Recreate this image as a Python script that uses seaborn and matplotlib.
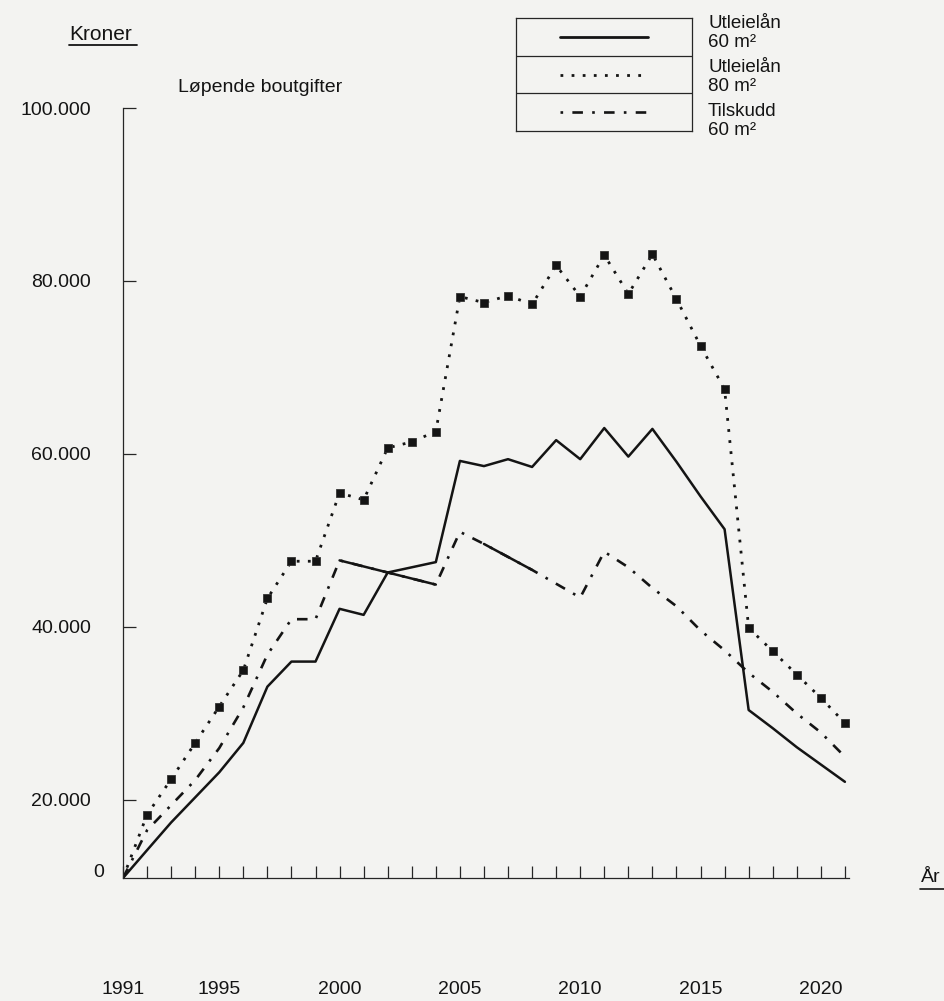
import numpy as np
import matplotlib.pyplot as plt
from matplotlib.lines import Line2D
import seaborn as sns

# values (kroner), one per year 1991-2021
years = list(range(1991, 2022))

utleie_60 = [0, 14200, 17400, 20300, 23200, 26600, 33100, 36000, 36000, 42100,
             41400, 46300, 46900, 47500, 59200, 58600, 59400, 58500, 61600, 59400,
             63000, 59700, 62900, 59100, 55100, 51300, 30400, 28300, 26100, 24100,
             22100]

utleie_80 = [0, 18300, 22400, 26600, 30800, 35000, 43300, 47600, 47600, 55500,
             54700, 60700, 61400, 62600, 78200, 77500, 78300, 77300, 81800, 78200,
             83000, 78500, 83100, 77900, 72500, 67500, 39900, 37200, 34500, 31800,
             28900]

tilskudd_60 = [0, 16500, 19400, 22300, 26000, 30700, 36800, 40900, 40900, 47700,
               47000, 46300, 45600, 44900, 51000, 49600, 48100, 46600, 45000, 43400,
               48700, 46900, 44500, 42400, 39600, 37300, 34700, 32500, 30000, 27800,
               25000]

label_years = [1991, 1995, 2000, 2005, 2010, 2015, 2020]
y_ticks = [20000, 40000, 60000, 80000, 100000]
y_tick_labels = ["20.000", "40.000", "60.000", "80.000", "100.000"]
legend_names = ["Utleielån\n60 m²", "Utleielån\n80 m²", "Tilskudd\n60 m²"]

# styles
BG = "#f3f3f1"
INK = "#141414"
SOLID = "-"
DOTTED = (0, (1, 3.0))
DASHDOT = (0, (4, 3.5, 1, 3.5))

# the original axis is cut: everything below ~14000 is squeezed onto the floor
Y_BREAK = 14000
Y_FLOOR = 10980


def squeeze(v):
    v = np.asarray(v, dtype=float)
    return np.where(v >= Y_BREAK, v, Y_FLOOR + v * (Y_BREAK - Y_FLOOR) / Y_BREAK)


def unsqueeze(u):
    u = np.asarray(u, dtype=float)
    return np.where(u >= Y_BREAK, u, (u - Y_FLOOR) * Y_BREAK / (Y_BREAK - Y_FLOOR))


def fx(px):
    return px / 944


def fy(py):
    return 1 - py / 1001


sns.set_theme(style="white")
plt.rcParams["font.family"] = ["Liberation Sans", "DejaVu Sans"]
plt.rcParams["text.color"] = INK

fig = plt.figure(figsize=(9.44, 10.01), dpi=100, facecolor=BG)
ax = fig.add_axes([fx(123), fy(878), fx(849) - fx(123), fy(108) - fy(878)])
ax.set_facecolor(BG)

sns.lineplot(x=years, y=utleie_60, ax=ax, color=INK, linewidth=1.8,
             linestyle=SOLID)
sns.lineplot(x=years, y=utleie_80, ax=ax, color=INK, linewidth=2.0,
             linestyle=DOTTED, marker="s", markersize=6, markeredgewidth=0.6,
             markeredgecolor="#333333", markerfacecolor=INK,
             markevery=list(range(1, len(years))))
sns.lineplot(x=years, y=tilskudd_60, ax=ax, color=INK, linewidth=1.9,
             linestyle=DASHDOT)
# in the print the Tilskudd curve is drawn solid over two stretches
sns.lineplot(x=years[9:14], y=tilskudd_60[9:14], ax=ax, color=INK,
             linewidth=1.8, linestyle=SOLID)
sns.lineplot(x=years[15:18], y=tilskudd_60[15:18], ax=ax, color=INK,
             linewidth=1.8, linestyle=SOLID)

ax.set_yscale("function", functions=(squeeze, unsqueeze))
ax.set_ylim(0, 100000)
ax.set_xlim(1991, 2021.17)

ax.set_xticks(years)
ax.set_xticklabels([str(y) if y in label_years else "" for y in years])
ax.set_yticks(y_ticks)
ax.set_yticklabels(y_tick_labels)
# the white style switches tick marks off, so turn them back on
ax.tick_params(axis="both", which="major", bottom=True, left=True,
               direction="in", length=9, width=0.9, color="#262626",
               labelsize=14, labelcolor=INK)
ax.tick_params(axis="x", pad=74)
ax.tick_params(axis="y", pad=23)
ax.set_xlabel("")
ax.set_ylabel("")
ax.grid(False)

for side in ["top", "right"]:
    ax.spines[side].set_visible(False)
for side in ["left", "bottom"]:
    ax.spines[side].set_linewidth(0.9)
    ax.spines[side].set_color("#262626")

# the "0" sits beside the floor of the cut axis
ax.annotate("0", xy=(0, 0), xycoords="axes fraction", xytext=(-13.5, 4),
            textcoords="offset points", ha="right", va="center", fontsize=14)

# titles
fig.text(fx(69), fy(35), "Kroner", fontsize=15, ha="left", va="center")
fig.add_artist(Line2D([fx(69), fx(137)], [fy(45), fy(45)], color=INK, lw=1.3))
fig.text(fx(178), fy(88), "Løpende boutgifter", fontsize=14, ha="left",
         va="center")
fig.text(fx(921), fy(878), "År", fontsize=14, ha="left", va="center")
fig.add_artist(Line2D([fx(920), fx(944)], [fy(889), fy(889)], color=INK, lw=1.2))

# boxed legend, one row per series
leg = fig.add_axes([fx(516), fy(131), fx(692) - fx(516), fy(18) - fy(131)])
leg.set_facecolor(BG)
leg.set_xlim(0, 1)
leg.set_ylim(0, 3)
leg.set_xticks([])
leg.set_yticks([])
for spine in leg.spines.values():
    spine.set_visible(True)
    spine.set_linewidth(0.9)
    spine.set_color("#262626")
leg.axhline(1, color="#262626", lw=0.9)
leg.axhline(2, color="#262626", lw=0.9)

leg_styles = [(SOLID, 2.0), (DOTTED, 2.0), ((7.5, (4, 3.5, 1, 3.5)), 1.9)]
for row, (style, lw) in enumerate(leg_styles):
    yrow = 2.5 - row
    leg.plot([0.25, 0.75], [yrow, yrow], color=INK, lw=lw, linestyle=style)

for name, py in zip(legend_names, [33, 77, 121]):
    fig.text(fx(708), fy(py), name, fontsize=13.5, ha="left", va="center",
             linespacing=1.2)

fig.savefig("out.png", dpi=100, facecolor=BG)
